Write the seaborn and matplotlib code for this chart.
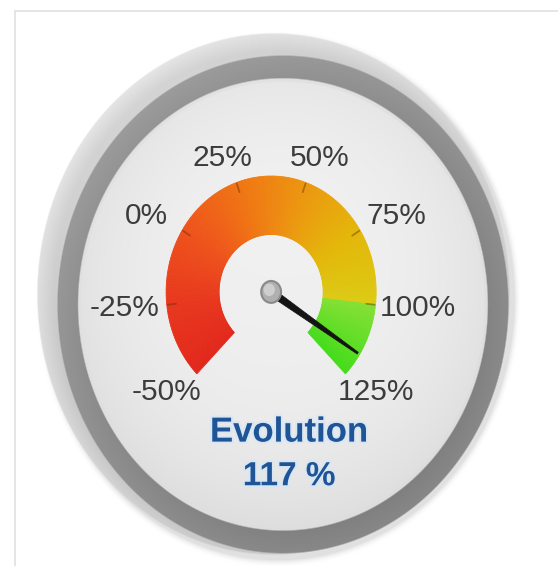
import numpy as np
import matplotlib
matplotlib.use("Agg")
import matplotlib.pyplot as plt
import matplotlib.patheffects as pe
from matplotlib.patches import Wedge, Circle, Polygon, Rectangle
import seaborn as sns

# ---- gauge data ----------------------------------------------------------
SCALE_MIN, SCALE_MAX = -50, 125
TICK_VALUES = [-50, -25, 0, 25, 50, 75, 100, 125]
TICK_LABELS = [f"{v}%" for v in TICK_VALUES]
# colour band, one stop every 25 units from -50 to 100
BAND_START, BAND_END = -50, 100
BAND_COLORS = ["#e2281c", "#e8381e", "#ee521c", "#f07414", "#ec9610", "#e4b60a", "#dcca14"]
GREEN_START, GREEN_END = 100, 125
GREEN_COLORS = ["#84e034", "#46dc1c"]
NEEDLE_VALUE = 117
TITLE = "Evolution"

sns.set_theme(style="white")
plt.rcParams["font.family"] = ["Liberation Sans", "DejaVu Sans"]

W, H = 558, 566
fig = plt.figure(figsize=(W / 100, H / 100), dpi=100)
ax = fig.add_axes([0, 0, 1, 1])

# data frame: bezel of radius 1, stretched a bit vertically like the source
X0, X1 = -273.5 / 236.5, (W - 273.5) / 236.5
Y0, Y1 = (294 - H) / 261, 294 / 261
cx, cy = -0.01, 0.008
R_OUT, R_IN = 0.444, 0.22


def val2ang(v):
    return 225 - (v - SCALE_MIN) / (SCALE_MAX - SCALE_MIN) * 270


# ---- bezel + face background (shaded image) ------------------------------
xs = np.linspace(X0, X1, W)
ys = np.linspace(Y1, Y0, H)
X, Y = np.meshgrid(xs, ys)
R = np.hypot(X, Y)
TH = np.arctan2(Y, X)
light = np.cos(TH - np.deg2rad(125))
Rd = np.hypot(X - 0.04, Y + 0.04)


def cover(d, soft=0.006):
    return np.clip(d / soft + 0.5, 0, 1)


img = np.ones_like(R)
# soft drop shadow, mostly bottom-right
Rs = np.hypot(X - 0.02, Y + 0.02)
sh = 0.3 * np.clip((1.03 - Rs) / 0.03, 0, 1) ** 2
img = img * (1 - sh) + 0.6 * sh
# outer light ring
c = cover(1.0 - R)
ring_col = 0.77 + 0.06 * light + 0.07 * np.clip((R - 0.93) / 0.07, 0, 1)
img = img * (1 - c) + ring_col * c
# dark ring
c = cover(0.955 - Rd)
dark_col = 0.57 + 0.04 * light - 0.03 * np.clip((0.955 - Rd) / 0.09, 0, 1)
img = img * (1 - c) + dark_col * c
# thin highlight line
c = cover(0.868 - Rd) * 0.8
img = img * (1 - c) + 0.96 * c
# face
c = cover(0.855 - Rd)
face_col = 0.94 - 0.05 * (Rd / 0.855) ** 3 + 0.02 * Y
img = img * (1 - c) + face_col * c

ax.imshow(np.dstack([img] * 3), extent=(X0, X1, Y0, Y1), aspect="auto",
          interpolation="bilinear", zorder=0)

# panel border
fig.patches.append(Rectangle((15 / W, -0.01), 1.0, 1 - 11 / H + 0.01, fill=False,
                             ec="#e0e0e0", lw=1.2, transform=fig.transFigure))

# ---- colour band ---------------------------------------------------------
band_pal = sns.blend_palette(BAND_COLORS, n_colors=BAND_END - BAND_START)
for i, col in enumerate(band_pal):
    v0 = BAND_START + i
    ax.add_patch(Wedge((cx, cy), R_OUT, val2ang(v0 + 1), val2ang(v0),
                       width=R_OUT - R_IN, fc=col, ec=col, lw=0.6, zorder=2))
green_pal = sns.blend_palette(GREEN_COLORS, n_colors=GREEN_END - GREEN_START)
for i, col in enumerate(green_pal):
    v0 = GREEN_START + i
    ax.add_patch(Wedge((cx, cy), R_OUT, val2ang(v0 + 1), val2ang(v0),
                       width=R_OUT - R_IN, fc=col, ec=col, lw=0.6, zorder=2))

# minor tick marks on the outer edge of the band
for v in TICK_VALUES[1:-1]:
    a = np.deg2rad(val2ang(v))
    ax.plot([cx + 0.405 * np.cos(a), cx + 0.44 * np.cos(a)],
            [cy + 0.405 * np.sin(a), cy + 0.44 * np.sin(a)],
            color="#6a3000", alpha=0.45, lw=1.3, zorder=3)

# scale labels
for v, lab in zip(TICK_VALUES, TICK_LABELS):
    a = np.deg2rad(val2ang(v))
    ax.text(cx + 0.625 * np.cos(a), cy + 0.545 * np.sin(a), lab,
            ha="center", va="center", fontsize=21.5, color="#3c3c3c", zorder=4)

# ---- needle --------------------------------------------------------------
a = np.deg2rad(val2ang(NEEDLE_VALUE))
d = np.array([np.cos(a), np.sin(a)])
n = np.array([-np.sin(a), np.cos(a)])
base = np.array([cx, cy])
tip = base + 0.435 * d
needle = [base + 0.015 * n, tip + 0.004 * n, tip - 0.004 * n, base - 0.015 * n]
ax.add_patch(Polygon(needle, closed=True, fc="#141414", ec="#141414", lw=0.5, zorder=5))

ax.add_patch(Circle((cx, cy), 0.042, fc="#b0b0b0", ec="#8a8a8a", lw=1.5, zorder=6))
ax.add_patch(Circle((cx - 0.008, cy + 0.008), 0.024, fc="#d6d6d6", ec="none",
                    alpha=0.8, zorder=7))

# ---- caption -------------------------------------------------------------
halo = [pe.withStroke(linewidth=3, foreground="#d4e6f8", alpha=0.7)]
ax.text(0.066, -0.529, TITLE, ha="center", va="center", fontsize=25,
        fontweight="bold", color="#1f5597", path_effects=halo, zorder=8)
ax.text(0.066, -0.70, f"{NEEDLE_VALUE:.0f} %", ha="center", va="center", fontsize=24,
        fontweight="bold", color="#1f5597", path_effects=halo, zorder=8)

ax.set_xlim(X0, X1)
ax.set_ylim(Y0, Y1)
ax.axis("off")
fig.savefig("out.png", dpi=100)
